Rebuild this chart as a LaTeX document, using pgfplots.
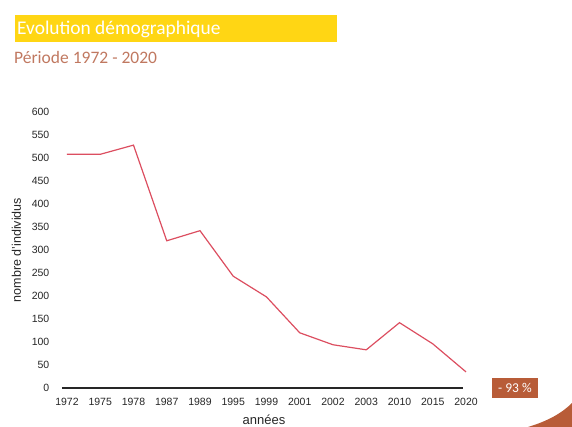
\documentclass[border=0pt]{standalone}
\usepackage{fontspec}
\setmainfont{Liberation Sans}
\newfontfamily\calibri{Carlito}
\usepackage{pgfplots}
\pgfplotsset{compat=1.18}

\definecolor{linered}{RGB}{220,78,96}
\definecolor{titleyellow}{RGB}{255,214,20}
\definecolor{subbrown}{RGB}{192,120,96}
\definecolor{badge}{RGB}{184,92,56}

\begin{document}
\begin{tikzpicture}[x=1pt,y=1pt]
\path[use as bounding box] (0,0) rectangle (572,427);

% title block
\fill[titleyellow] (15,385) rectangle (337,412);
\node[anchor=base west, text=white, inner sep=0pt] at (17,392)
  {\calibri\fontsize{19.4}{22}\selectfont Evolution démographique};
\node[anchor=base west, text=subbrown, inner sep=0pt] at (14,363)
  {\calibri\fontsize{17.5}{19}\selectfont Période 1972 - 2020};

\begin{axis}[
  at={(62pt,39pt)}, anchor=south west,
  scale only axis,
  width=404pt, height=276pt,
  xmin=-0.15, xmax=12,
  ymin=0, ymax=600,
  clip=false,
  axis x line=bottom, axis y line=left,
  x axis line style={-, draw=black!85, line width=1.3pt, shorten >=3pt},
  y axis line style={draw=none},
  xtick={0,...,12},
  xticklabels={1972,1975,1978,1987,1989,1995,1999,2001,2002,2003,2010,2015,2020},
  ytick={0,50,...,600},
  tick style={draw=none},
  /pgf/number format/assume math mode=true,
  ticklabel style={font=\fontsize{10.5}{12}\selectfont, text=black!85},
  yticklabel style={anchor=east, xshift=-7pt},
  xticklabel style={yshift=-5pt},
  xlabel={années},
  ylabel={nombre d'individus},
  xlabel style={font=\fontsize{13}{15}\selectfont, text=black!85, yshift=-2pt},
  ylabel style={font=\fontsize{12.5}{14}\selectfont, text=black!85, yshift=4pt},
]
\addplot[linered, line width=1.2pt, mark=none] coordinates {
  (0,508) (1,508) (2,528) (3,320) (4,342) (5,243) (6,198)
  (7,120) (8,94) (9,83) (10,142) (11,96) (12,35)
};
\end{axis}

% badge
\node[fill=badge, text=white, minimum width=46pt, minimum height=20pt, inner sep=2pt]
  at (515,39) {\calibri\fontsize{13.5}{15}\selectfont - 93 \%};

% corner decoration
\fill[badge] (528,0) .. controls (548,6) and (562,14) .. (572,24) -- (572,0) -- cycle;
\end{tikzpicture}
\end{document}
